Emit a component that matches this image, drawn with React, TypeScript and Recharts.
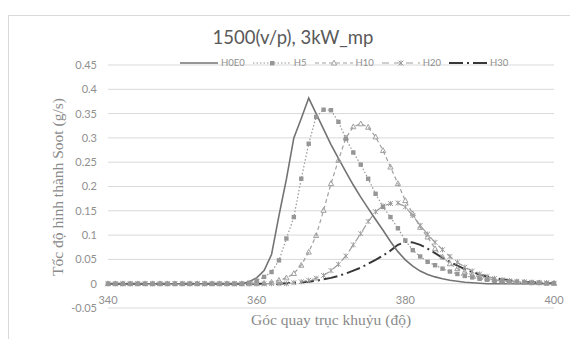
import React from 'react';
import { LineChart, Line, XAxis, YAxis, CartesianGrid, Label } from 'recharts';

const angles = [340, 341, 342, 343, 344, 345, 346, 347, 348, 349, 350, 351, 352, 353, 354, 355, 356, 357, 358, 359, 360, 361, 362, 363, 364, 365, 366, 367, 368, 369, 370, 371, 372, 373, 374, 375, 376, 377, 378, 379, 380, 381, 382, 383, 384, 385, 386, 387, 388, 389, 390, 391, 392, 393, 394, 395, 396, 397, 398, 399, 400];

const h0e0 = [0, 0, 0, 0, 0, 0, 0, 0, 0, 0, 0, 0, 0, 0, 0, 0, 0, 0, 0,
  0.004, 0.012, 0.027, 0.06, 0.14, 0.215, 0.3, 0.34, 0.382, 0.35, 0.318, 0.286, 0.258, 0.23, 0.203, 0.178, 0.155, 0.132, 0.11, 0.087, 0.066, 0.049, 0.036, 0.026, 0.019, 0.014, 0.01, 0.007, 0.005, 0.003, 0.002, 0.001,
  0, 0, 0, 0, 0, 0, 0, 0, 0, 0];

const h5 = [0, 0, 0, 0, 0, 0, 0, 0, 0, 0, 0, 0, 0, 0, 0, 0, 0, 0, 0,
  0.002, 0.006, 0.014, 0.024, 0.048, 0.093, 0.137, 0.216, 0.288, 0.343, 0.358, 0.357, 0.333, 0.298, 0.27, 0.245, 0.216, 0.185, 0.158, 0.137, 0.114, 0.089, 0.069, 0.056, 0.045, 0.038, 0.031, 0.025, 0.02, 0.016, 0.013, 0.01, 0.008, 0.006, 0.005, 0.004, 0.003, 0.003, 0.002, 0.002, 0.001, 0.001];

const h10 = [0, 0, 0, 0, 0, 0, 0, 0, 0, 0, 0, 0, 0, 0, 0, 0, 0, 0, 0, 0, 0,
  0.001, 0.003, 0.007, 0.012, 0.021, 0.038, 0.065, 0.099, 0.151, 0.206, 0.254, 0.3, 0.323, 0.329, 0.322, 0.302, 0.274, 0.24, 0.206, 0.171, 0.144, 0.116, 0.096, 0.072, 0.055, 0.041, 0.031, 0.024, 0.018, 0.014, 0.011, 0.008, 0.006, 0.005, 0.004, 0.003, 0.002, 0.002, 0.001, 0.001];

const h20 = [0, 0, 0, 0, 0, 0, 0, 0, 0, 0, 0, 0, 0, 0, 0, 0, 0, 0, 0, 0, 0, 0, 0, 0, 0,
  0.002, 0.004, 0.007, 0.011, 0.017, 0.027, 0.04, 0.057, 0.08, 0.103, 0.128, 0.148, 0.16, 0.165, 0.166, 0.158, 0.14, 0.12, 0.102, 0.085, 0.07, 0.056, 0.044, 0.034, 0.026, 0.02, 0.015, 0.011, 0.008, 0.006, 0.005, 0.004, 0.003, 0.002, 0.002, 0.001];

const h30 = [0, 0, 0, 0, 0, 0, 0, 0, 0, 0, 0, 0, 0, 0, 0, 0, 0, 0, 0, 0, 0, 0, 0, 0,
  0.001, 0.002, 0.003, 0.004, 0.006, 0.009, 0.012, 0.016, 0.021, 0.027, 0.033, 0.041, 0.049, 0.058, 0.068, 0.08, 0.086, 0.085, 0.08, 0.072, 0.063, 0.053, 0.045, 0.037, 0.03, 0.024, 0.019, 0.015, 0.011, 0.009, 0.007, 0.005, 0.004, 0.003, 0.002, 0.002, 0.001];

const seriesNames = ['H0E0', 'H5', 'H10', 'H20', 'H30'];
const xTicks = [340, 360, 380, 400];
const yTicks = [-0.05, 0, 0.05, 0.1, 0.15, 0.2, 0.25, 0.3, 0.35, 0.4, 0.45];

const data = angles.map((a, i) => ({
  angle: a,
  H0E0: h0e0[i],
  H5: h5[i],
  H10: h10[i],
  H20: h20[i],
  H30: h30[i],
}));

const SANS = 'Lato, "Open Sans", sans-serif';
const SERIF = '"Liberation Serif", "DejaVu Serif", serif';

const C0 = '#737373';
const C5 = '#969696';
const C10 = '#a0a0a0';
const C20 = '#9d9d9d';
const C30 = '#383838';

const SquareDot = (props: any) => {
  const { cx, cy, index } = props;
  if (cx == null || cy == null) return <g key={`s${index}`} />;
  return <rect key={`s${index}`} x={cx - 2.2} y={cy - 2.2} width={4.4} height={4.4} fill={C5} />;
};

const TriDot = (props: any) => {
  const { cx, cy, index } = props;
  if (cx == null || cy == null) return <g key={`t${index}`} />;
  return (
    <polygon
      key={`t${index}`}
      points={`${cx},${cy - 2.8} ${cx + 2.6},${cy + 2} ${cx - 2.6},${cy + 2}`}
      fill="none"
      stroke={C10}
      strokeWidth={1}
    />
  );
};

const XDot = (props: any) => {
  const { cx, cy, index } = props;
  if (cx == null || cy == null) return <g key={`x${index}`} />;
  return (
    <path
      key={`x${index}`}
      d={`M${cx - 2.4},${cy - 2.4}L${cx + 2.4},${cy + 2.4}M${cx - 2.4},${cy + 2.4}L${cx + 2.4},${cy - 2.4}M${cx},${cy - 2.6}L${cx},${cy + 2.6}`}
      stroke={C20}
      strokeWidth={1}
      fill="none"
    />
  );
};

const XTick = (props: any) => {
  const { x, y, payload } = props;
  return (
    <text x={x} y={y - 4} textAnchor="middle" fill="#8f8f8f" fontSize={11} fontFamily={SANS}>
      {payload.value}
    </text>
  );
};

const fmtY = (v: number) => String(Math.round(v * 100) / 100);

const LegendSample = ({ kind }: { kind: string }) => {
  if (kind === 'H0E0') {
    return (
      <svg width={38} height={8}><line x1={0} y1={4} x2={38} y2={4} stroke={C0} strokeWidth={1.6} /></svg>
    );
  }
  if (kind === 'H5') {
    return (
      <svg width={38} height={8}>
        <line x1={0} y1={4} x2={38} y2={4} stroke={C5} strokeWidth={1.2} strokeDasharray="1.5 2" />
        <rect x={17} y={2} width={4.4} height={4.4} fill={C5} />
      </svg>
    );
  }
  if (kind === 'H10') {
    return (
      <svg width={38} height={8}>
        <line x1={0} y1={4} x2={38} y2={4} stroke={C10} strokeWidth={1.2} strokeDasharray="4 3" />
        <polygon points="19,1.2 21.6,6 16.4,6" fill="#fff" stroke={C10} strokeWidth={1} />
      </svg>
    );
  }
  if (kind === 'H20') {
    return (
      <svg width={38} height={8}>
        <line x1={0} y1={4} x2={38} y2={4} stroke={C20} strokeWidth={1.2} strokeDasharray="7 5" />
        <path d="M16.6,1.6L21.4,6.4M16.6,6.4L21.4,1.6M19,1.4L19,6.6" stroke={C20} strokeWidth={1} />
      </svg>
    );
  }
  return (
    <svg width={38} height={8}>
      <line x1={0} y1={4} x2={38} y2={4} stroke={C30} strokeWidth={2} strokeDasharray="14 4 2 4" />
    </svg>
  );
};

export default function App() {
  return (
    <div style={{ position: 'absolute', left: 0, top: 0, width: 570, height: 339, background: '#fff', overflow: 'hidden' }}>
      <div style={{ position: 'absolute', left: 8, top: 15, width: 600, height: 340, borderLeft: '1px solid #d9d9d9', borderTop: '1px solid #d9d9d9' }} />
      <div style={{ position: 'absolute', left: 0, top: 26, width: 586, textAlign: 'center', fontFamily: SANS, fontSize: 18.5, color: '#595959' }}>
        1500(v/p), 3kW_mp
      </div>
      <LineChart width={570} height={339} data={data} margin={{ top: 65, right: 16, bottom: 0, left: 0 }} style={{ position: 'absolute', left: 0, top: 0 }}>
        <CartesianGrid horizontal vertical={false} stroke="#d9d9d9" strokeWidth={1} />
        <XAxis
          type="number"
          dataKey="angle"
          domain={[340, 400]}
          ticks={xTicks}
          axisLine={false}
          tickLine={false}
          tickSize={0}
          tickMargin={0}
          height={31}
          tick={<XTick />}
          interval={0}
        >
          <Label value="Góc quay trục khuỷu (độ)" position="insideBottom" offset={14} fill="#8a8a8a" fontSize={15.5} fontFamily={SERIF} />
        </XAxis>
        <YAxis
          type="number"
          domain={[-0.05, 0.45]}
          ticks={yTicks}
          axisLine={false}
          tickLine={false}
          tickSize={0}
          tickMargin={11}
          width={108}
          tickFormatter={fmtY}
          tick={{ fill: '#8f8f8f', fontSize: 11, fontFamily: SANS }}
          interval={0}
        >
          <Label
            content={() => (
              <text transform="translate(57,187) rotate(-90)" textAnchor="middle" dominantBaseline="central" fill="#8a8a8a" fontSize={15.5} fontFamily={SERIF}>
                Tốc độ hình thành Soot (g/s)
              </text>
            )}
          />
        </YAxis>
        <Line type="linear" dataKey="H30" stroke={C30} strokeWidth={2} strokeDasharray="14 4 2 4" dot={false} isAnimationActive={false} />
        <Line type="linear" dataKey="H20" stroke={C20} strokeWidth={1.2} strokeDasharray="7 5" dot={<XDot />} isAnimationActive={false} />
        <Line type="linear" dataKey="H10" stroke={C10} strokeWidth={1.2} strokeDasharray="4 3" dot={<TriDot />} isAnimationActive={false} />
        <Line type="linear" dataKey="H5" stroke={C5} strokeWidth={1.2} strokeDasharray="1.5 2" dot={<SquareDot />} isAnimationActive={false} />
        <Line type="linear" dataKey="H0E0" stroke={C0} strokeWidth={1.6} dot={false} isAnimationActive={false} />
      </LineChart>
      <div style={{ position: 'absolute', left: 180, top: 57, display: 'flex', alignItems: 'center', fontFamily: SANS, fontSize: 9.5, color: '#8f8f8f', whiteSpace: 'nowrap' }}>
        {seriesNames.map((n) => (
          <div key={n} style={{ display: 'flex', alignItems: 'center', marginRight: 8 }}>
            <LegendSample kind={n} />
            <span style={{ marginLeft: 3 }}>{n}</span>
          </div>
        ))}
      </div>
    </div>
  );
}
